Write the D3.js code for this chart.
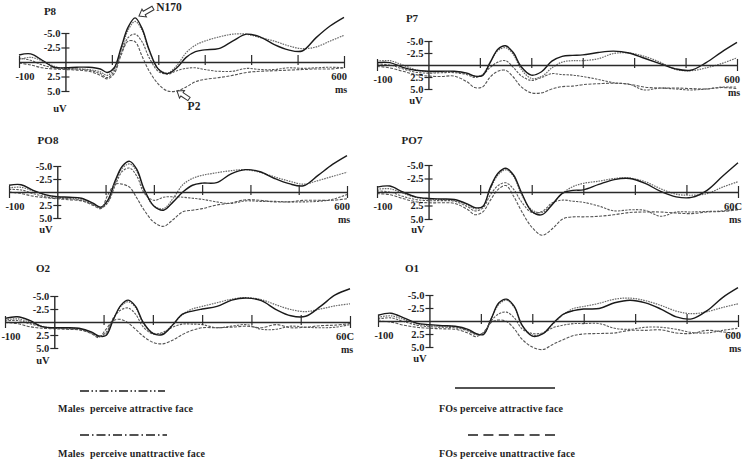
<!DOCTYPE html>
<html>
<head>
<meta charset="utf-8">
<script src="https://cdn.jsdelivr.net/npm/d3@7"></script>
<style>
  body { margin: 0; background: #fff; }
  text { font-family: "Liberation Serif", "Times New Roman", serif; font-weight: bold; fill: #1e1e1e; }
</style>
</head>
<body>
<script>
'use strict';

// time points (ms) shared by every waveform
const times = [-100, -75, -50, -25, 0, 25, 50, 75, 90, 105, 120, 135, 150, 165, 180, 200,
  220, 240, 260, 280, 300, 330, 360, 390, 420, 450, 480, 510, 540, 570, 600];

// amplitudes in uV (negative is drawn upwards)
const p8FoAttr = [-1.2, -1.4, -0.3, 0.9, 1.0, 0.9, 0.9, 1.2, 1.8, 1.0, -2.5, -6.0, -7.6, -5.8, -2.2, 1.2, 2.0, 1.0, -0.8, -1.8, -2.1, -2.3, -3.6, -4.8, -4.3, -3.0, -2.1, -1.9, -4.2, -6.2, -7.7];
const p8MaleAttr = [-0.4, -0.8, -0.2, 0.7, 1.2, 1.2, 1.3, 1.7, 2.3, 1.2, -2.0, -5.5, -7.0, -5.5, -2.0, 1.2, 1.9, 0.6, -1.6, -2.9, -3.6, -4.3, -4.8, -4.8, -4.2, -3.6, -2.8, -2.3, -2.6, -3.6, -4.6];
const p8MaleUnattr = [-0.7, -0.3, 0.5, 1.0, 1.1, 1.2, 1.4, 2.0, 2.7, 1.6, -1.5, -4.2, -4.8, -3.5, -0.8, 1.6, 2.1, 1.5, 1.1, 1.0, 1.3, 1.6, 1.6, 1.1, 1.3, 1.3, 1.0, 1.1, 1.0, 0.9, 1.0];
const p8FoUnattr = [0.2, 0.5, 1.0, 1.2, 1.3, 1.4, 1.6, 2.3, 2.9, 2.0, -1.2, -3.6, -3.5, -1.0, 1.5, 3.8, 5.0, 5.0, 4.3, 3.4, 3.0, 2.7, 2.3, 1.8, 1.6, 1.5, 1.4, 1.3, 1.2, 1.2, 1.0];

const p7FoAttr = [-0.5, -0.5, 0.5, 1.1, 1.3, 1.3, 1.3, 1.7, 2.3, 2.2, -0.5, -3.3, -4.0, -2.6, 0.3, 2.1, 1.4, -0.8, -1.8, -2.0, -2.1, -2.6, -2.9, -2.5, -1.4, -0.3, 0.8, 1.1, -0.5, -2.7, -4.7];
const p7MaleAttr = [-0.8, -0.9, 0.0, 1.0, 1.4, 1.4, 1.4, 1.8, 2.4, 2.0, -0.6, -3.0, -3.6, -2.2, 0.8, 2.8, 2.4, 0.6, -0.6, -0.9, -0.9, -1.3, -2.4, -2.5, -1.8, -0.6, 0.9, 1.2, 0.6, -0.3, -1.5];
const p7MaleUnattr = [-0.2, 0.0, 0.8, 1.5, 1.7, 1.6, 1.6, 2.0, 2.6, 2.1, 0.5, -0.6, -0.9, 0.5, 2.2, 3.2, 2.6, 1.8, 2.0, 2.1, 2.4, 3.0, 3.7, 4.0, 5.2, 4.8, 5.0, 5.2, 5.0, 4.6, 4.6];
const p7FoUnattr = [0.3, 0.6, 1.3, 2.0, 2.3, 2.4, 2.3, 3.5, 4.7, 4.6, 2.5, 1.3, 1.1, 2.5, 4.5, 5.8, 5.8, 5.0, 4.5, 4.4, 4.1, 3.9, 3.8, 4.0, 4.6, 4.8, 4.8, 4.9, 5.0, 4.7, 4.9];

const po8FoAttr = [-1.3, -1.4, -0.3, 0.5, 0.9, 1.0, 1.2, 2.2, 2.9, 1.5, -2.2, -5.0, -5.9, -4.3, -0.5, 2.7, 3.5, 1.9, 0.0, -1.3, -1.7, -1.8, -3.5, -4.3, -3.9, -2.6, -1.6, -1.2, -3.2, -5.3, -7.0];
const po8MaleAttr = [-0.8, -0.9, -0.2, 0.6, 1.0, 1.2, 1.4, 2.4, 3.0, 1.8, -1.8, -4.6, -5.4, -3.9, -0.3, 2.7, 3.2, 1.2, -1.4, -2.6, -3.2, -3.7, -4.1, -4.3, -3.8, -2.9, -2.1, -1.5, -2.2, -3.0, -3.8];
const po8MaleUnattr = [-0.5, -0.4, 0.3, 0.9, 1.2, 1.3, 1.6, 2.4, 3.1, 2.0, -1.3, -4.0, -4.6, -3.0, 0.2, 1.6, 1.0, 0.9, 1.0, 1.2, 1.4, 1.9, 2.2, 1.7, 1.8, 1.8, 1.9, 1.9, 1.8, 1.4, 0.5];
const po8FoUnattr = [0.0, 0.3, 0.8, 1.1, 1.3, 1.5, 1.7, 2.6, 3.2, 0.5, -1.5, -1.5, -0.9, 1.2, 3.5, 5.8, 6.6, 5.3, 3.8, 3.5, 3.2, 2.5, 2.1, 1.5, 1.6, 1.9, 1.9, 1.6, 1.6, 1.6, 1.3];

const po7FoAttr = [-0.9, -1.1, 0.0, 0.9, 1.2, 1.3, 1.4, 2.2, 2.9, 2.7, -0.9, -3.5, -4.4, -3.1, 0.1, 3.6, 4.2, 2.3, 0.2, -0.3, -0.4, -1.4, -2.3, -2.5, -1.6, -0.1, 0.9, 1.0, -0.3, -2.9, -5.4];
const po7MaleAttr = [-0.5, -0.6, 0.2, 1.0, 1.3, 1.4, 1.6, 2.4, 3.1, 2.7, -0.6, -3.2, -4.1, -2.9, 0.4, 3.3, 3.8, 2.2, 0.2, -1.0, -1.6, -2.0, -2.5, -2.6, -1.9, -0.6, 0.4, 0.6, 0.3, -0.9, -1.9];
const po7MaleUnattr = [-0.2, 0.0, 0.8, 1.4, 1.6, 1.6, 1.7, 2.7, 3.5, 3.0, 0.5, -1.2, -1.7, -0.5, 1.8, 3.8, 3.6, 2.0, 1.5, 1.7, 1.9, 2.6, 3.5, 3.3, 3.4, 4.5, 3.7, 3.7, 3.6, 3.5, 3.1];
const po7FoUnattr = [0.3, 0.5, 1.2, 1.8, 2.0, 2.0, 2.1, 3.2, 4.2, 3.7, 1.5, -0.5, -1.2, 0.8, 3.5, 6.5, 8.0, 6.8, 5.0, 4.6, 4.6, 4.5, 4.2, 3.8, 3.7, 3.7, 3.9, 4.0, 3.7, 3.6, 3.3];

const o2FoAttr = [-0.7, -1.0, -0.3, 0.9, 1.1, 1.1, 1.2, 1.9, 2.7, 2.6, -0.5, -3.2, -4.2, -3.0, 0.0, 2.2, 2.4, 0.6, -1.5, -2.1, -2.5, -3.0, -4.2, -4.6, -4.1, -2.4, -1.2, -1.1, -3.0, -5.2, -6.4];
const o2MaleAttr = [-0.4, -0.6, 0.0, 0.8, 1.2, 1.2, 1.3, 2.0, 2.8, 2.3, -0.6, -3.0, -3.9, -2.8, 0.2, 2.1, 2.2, 0.5, -1.4, -2.5, -3.0, -3.7, -4.4, -4.7, -4.3, -3.3, -2.4, -2.0, -2.5, -3.1, -3.5];
const o2MaleUnattr = [-0.2, -0.3, 0.3, 0.9, 1.2, 1.3, 1.4, 2.1, 2.8, 2.0, -0.8, -2.3, -2.7, -1.5, 0.9, 2.3, 2.0, 1.0, 0.4, 0.4, 0.5, 1.1, 0.8, 0.5, 1.4, 1.4, 0.8, 1.0, 1.1, 1.0, 0.5];
const o2FoUnattr = [0.1, 0.3, 0.9, 1.2, 1.3, 1.4, 1.5, 2.2, 3.0, 1.4, -0.3, -0.5, 0.2, 1.4, 2.7, 3.9, 4.2, 3.5, 2.4, 1.6, 1.1, 1.1, 1.0, 0.8, 1.1, 0.5, 1.1, 1.0, 0.7, 0.6, 0.3];

const o1FoAttr = [-1.1, -1.5, -0.6, 0.4, 0.7, 0.9, 1.0, 1.6, 2.4, 2.6, -0.4, -3.5, -4.2, -2.8, 0.8, 2.9, 2.5, 0.5, -1.3, -2.0, -2.3, -2.4, -3.5, -4.0, -3.5, -2.3, -0.8, -0.4, -2.0, -4.5, -6.4];
const o1MaleAttr = [-0.7, -1.0, -0.3, 0.5, 0.9, 1.0, 1.1, 1.8, 2.5, 2.5, -0.4, -3.2, -4.0, -2.6, 0.8, 2.7, 2.4, 0.6, -1.2, -2.4, -2.8, -3.4, -4.2, -4.4, -3.9, -3.0, -1.9, -1.4, -1.8, -2.6, -3.3];
const o1MaleUnattr = [-0.4, -0.6, 0.1, 0.8, 1.1, 1.2, 1.3, 1.9, 2.6, 2.3, 0.0, -1.4, -1.7, -0.6, 1.5, 2.4, 2.3, 1.3, 0.8, 0.5, 0.5, 0.5, 1.4, 1.6, 1.2, 1.2, 1.6, 2.2, 2.3, 1.8, 1.4];
const o1FoUnattr = [0.0, 0.2, 0.8, 1.2, 1.4, 1.5, 1.6, 2.3, 3.0, 2.2, 0.3, -0.2, 0.1, 1.5, 3.5, 5.0, 5.5, 4.5, 3.6, 2.8, 2.5, 2.4, 2.3, 1.8, 1.8, 1.7, 2.3, 2.4, 1.8, 2.1, 2.4];

// axis ticks
const xTicks = [-100, 100, 200, 300, 400, 500, 600];
const yTicks = [-5, -2.5, 2.5, 5];

// legend labels
const legendLabels = ['Males  perceive attractive face', 'Males  perceive unattractive face',
  'FOs perceive attractive face', 'FOs perceive unattractive face'];

// line style for each condition: males attr, males unattr, FOs attr, FOs unattr
const curveStyles = [
  { stroke: '#6a6a6a', width: 1.2, dash: '1.6,1' },
  { stroke: '#5a5a5a', width: 1.1, dash: '2.4,1.2' },
  { stroke: '#1a1a1a', width: 1.4, dash: null },
  { stroke: '#555', width: 1.1, dash: '3,1.4' }
];

// panel layout
const panels = [
  { name: 'P8', xr: [19, 344], yr: [33, 91], nameXY: [50, 11], uvXY: [60, 108], end: '600',
    series: [p8MaleAttr, p8MaleUnattr, p8FoAttr, p8FoUnattr] },
  { name: 'P7', xr: [377, 737], yr: [41, 89], nameXY: [412, 18], uvXY: [416, 100], end: '600',
    series: [p7MaleAttr, p7MaleUnattr, p7FoAttr, p7FoUnattr] },
  { name: 'PO8', xr: [9, 347], yr: [166, 218], nameXY: [48, 140], uvXY: [46, 229], end: '600',
    series: [po8MaleAttr, po8MaleUnattr, po8FoAttr, po8FoUnattr] },
  { name: 'PO7', xr: [377, 738], yr: [165, 219], nameXY: [412, 140], uvXY: [418, 229], end: '60C',
    series: [po7MaleAttr, po7MaleUnattr, po7FoAttr, po7FoUnattr] },
  { name: 'O2', xr: [5, 350], yr: [296, 348], nameXY: [43, 268], uvXY: [43, 360], end: '60C',
    series: [o2MaleAttr, o2MaleUnattr, o2FoAttr, o2FoUnattr] },
  { name: 'O1', xr: [378, 738], yr: [295, 347], nameXY: [412, 268], uvXY: [420, 358], end: '600',
    series: [o1MaleAttr, o1MaleUnattr, o1FoAttr, o1FoUnattr] }
];

const svg = d3.select('body').append('svg')
  .attr('width', 744)
  .attr('height', 461);

panels.forEach(drawPanel);
drawArrows();
drawLegend();

// draw one electrode panel
function drawPanel(p) {
  const x = d3.scaleLinear().domain([-100, 600]).range(p.xr);
  const y = d3.scaleLinear().domain([-5, 5]).range(p.yr);
  const g = svg.append('g');

  // waveforms
  const line = d3.line()
    .x((d, i) => x(times[i]))
    .y(d => y(d))
    .curve(d3.curveCatmullRom.alpha(0.5));

  p.series.forEach((s, i) => {
    const st = curveStyles[i];
    g.append('path')
      .attr('d', line(s))
      .attr('fill', 'none')
      .attr('stroke', st.stroke)
      .attr('stroke-width', st.width)
      .attr('stroke-dasharray', st.dash);
  });

  // x axis along 0 uV
  const gx = g.append('g')
    .attr('transform', `translate(0,${y(0)})`)
    .call(d3.axisBottom(x).tickValues(xTicks).tickFormat('').tickSizeOuter(0));
  gx.select('.domain').attr('stroke', '#2a2a2a').attr('stroke-width', 1.6);
  gx.selectAll('.tick line')
    .attr('y1', d => (d === -100 || d === 600) ? -6 : -7)
    .attr('y2', d => (d === -100 || d === 600) ? 6 : 3)
    .attr('stroke', '#2a2a2a')
    .attr('stroke-width', 1.2);

  // y axis at 0 ms
  const gy = g.append('g')
    .attr('transform', `translate(${x(0)},0)`)
    .call(d3.axisLeft(y).tickValues(yTicks).tickFormat(d => d.toFixed(1))
      .tickSizeInner(4).tickSizeOuter(0).tickPadding(2));
  gy.attr('font-family', null).attr('font-size', 10.5);
  gy.select('.domain').attr('stroke', '#2a2a2a').attr('stroke-width', 1.4);
  gy.selectAll('.tick line').attr('x1', 4).attr('x2', -4).attr('stroke', '#2a2a2a').attr('stroke-width', 1.2);
  gy.selectAll('.tick text').attr('x', -5);

  // labels
  g.append('text').attr('x', p.nameXY[0]).attr('y', p.nameXY[1]).attr('dy', '0.35em')
    .attr('text-anchor', 'middle').style('font-size', '11px').text(p.name);
  g.append('text').attr('x', p.uvXY[0]).attr('y', p.uvXY[1]).attr('dy', '0.35em')
    .attr('text-anchor', 'middle').style('font-size', '10.5px').text('uV');
  g.append('text').attr('x', x(-100) + 6).attr('y', y(0) + 14).attr('dy', '0.35em')
    .attr('text-anchor', 'middle').style('font-size', '10.5px').text('-100');
  g.append('text').attr('x', x(600) - 5).attr('y', y(0) + 14).attr('dy', '0.35em')
    .attr('text-anchor', 'middle').style('font-size', '10.5px').text(p.end);
  g.append('text').attr('x', x(600) - 3).attr('y', y(0) + 27).attr('dy', '0.35em')
    .attr('text-anchor', 'middle').style('font-size', '10px').text('ms');
}

// hollow block arrows marking N170 and P2 on P8
function drawArrows() {
  const marks = [
    { tip: [139, 16], tail: [153, 8], label: 'N170', lx: 169, ly: 7 },
    { tip: [177, 91], tail: [189, 99], label: 'P2', lx: 194, ly: 106 }
  ];
  marks.forEach(m => {
    const dx = m.tail[0] - m.tip[0], dy = m.tail[1] - m.tip[1];
    const len = Math.hypot(dx, dy);
    const ang = Math.atan2(dy, dx) * 180 / Math.PI;
    svg.append('path')
      .attr('d', `M0,0 L6,-4.5 L6,-2 L${len},-2 L${len},2 L6,2 L6,4.5 Z`)
      .attr('transform', `translate(${m.tip[0]},${m.tip[1]}) rotate(${ang})`)
      .attr('fill', '#fff')
      .attr('stroke', '#333')
      .attr('stroke-width', 1);
    svg.append('text').attr('x', m.lx).attr('y', m.ly).attr('dy', '0.35em')
      .attr('text-anchor', 'middle').style('font-size', '11.5px').text(m.label);
  });
}

// legend: sample line above each caption
function drawLegend() {
  const items = [
    { x1: 80, x2: 165, ly: 391, tx: 58, ty: 408, w: 135, dash: '9,2.5,1.5,2.5,1.5,2.5' },
    { x1: 80, x2: 167, ly: 435, tx: 58, ty: 453, w: 147, dash: '9,3,1.5,3' },
    { x1: 455, x2: 555, ly: 388, tx: 439, ty: 408, w: 124, dash: null },
    { x1: 468, x2: 555, ly: 435, tx: 439, ty: 453, w: 136, dash: '10,5.4' }
  ];
  items.forEach((it, i) => {
    svg.append('line')
      .attr('x1', it.x1).attr('x2', it.x2)
      .attr('y1', it.ly).attr('y2', it.ly)
      .attr('stroke', '#1a1a1a')
      .attr('stroke-width', 1.5)
      .attr('stroke-dasharray', it.dash);
    svg.append('text')
      .attr('x', it.tx).attr('y', it.ty).attr('dy', '0.35em')
      .attr('textLength', it.w)
      .style('font-size', '10px')
      .style('white-space', 'pre')
      .text(legendLabels[i]);
  });
}
</script>
</body>
</html>
